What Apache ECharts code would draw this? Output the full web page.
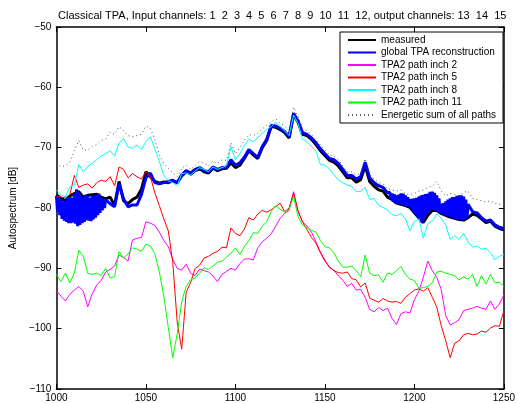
<!DOCTYPE html>
<html>
<head>
<meta charset="utf-8">
<script src="https://cdn.jsdelivr.net/npm/echarts@6/dist/echarts.min.js"></script>
<style>
html,body{margin:0;padding:0;background:#fff;}
#chart{width:518px;height:403px;}
</style>
</head>
<body>
<div id="chart"></div>
<script>
// ---------- DATA ----------
const titleText = 'Classical TPA, Input channels: 1  2  3  4  5  6  7  8  9  10  11  12, output channels: 13  14  15';
const yAxisName = 'Autospectrum [dB]';
const seriesNames = ['measured','global TPA reconstruction','TPA2 path inch 2','TPA2 path inch 5','TPA2 path inch 8','TPA2 path inch 11','Energetic sum of all paths'];
const xTicks = [1000,1050,1100,1150,1200,1250];
const yTicks = [-110,-100,-90,-80,-70,-60,-50];

const freq = [1000,1002.5,1005,1007.5,1010,1012.5,1015,1017.5,1020,1022.5,1025,1027.5,1030,1032.5,1035,1037.5,1040,1042.5,1045,1047.5,
1050,1052.5,1055,1057.5,1060,1062.5,1065,1067.5,1070,1072.5,1075,1077.5,1080,1082.5,1085,1087.5,1090,1092.5,1095,1097.5,
1100,1102.5,1105,1107.5,1110,1112.5,1115,1117.5,1120,1122.5,1125,1127.5,1130,1132.5,1135,1137.5,1140,1142.5,1145,1147.5,
1150,1152.5,1155,1157.5,1160,1162.5,1165,1167.5,1170,1172.5,1175,1177.5,1180,1182.5,1185,1187.5,1190,1192.5,1195,1197.5,
1200,1202.5,1205,1207.5,1210,1212.5,1215,1217.5,1220,1222.5,1225,1227.5,1230,1232.5,1235,1237.5,1240,1242.5,1245,1247.5,1250];

const measured = [
-77.8,-78.4,-78.8,-78.0, -77.6,-77.3,-78.2,-77.9, -77.8,-77.7,-78.2,-78.5, -78.2,-79.6,-75.6,-78.8, -79.3,-78.6,-78.2,-76.9,
-74.0,-74.8,-75.6,-75.9, -75.7,-75.8,-75.5,-75.8, -74.7,-74.0,-74.4,-73.8, -73.5,-74.0,-74.2,-73.4, -73.8,-73.5,-73.4,-72.5,
-73.3,-72.9,-71.8,-70.5, -71.2,-71.8,-70.0,-68.8, -66.5,-66.6,-67.0,-67.5, -68.4,-64.5,-65.8,-67.8, -68.0,-68.6,-69.5,-70.5,
-71.3,-72.1,-72.4,-73.0, -74.0,-75.0,-75.0,-75.7, -75.3,-73.0,-75.6,-76.4, -77.0,-77.2,-78.2,-78.6, -79.2,-79.4,-79.6,-79.9,
-80.8,-81.6,-82.4,-81.2, -80.4,-80.4,-80.9,-81.2, -81.5,-81.7,-81.9,-82.0, -81.6,-81.0,-81.2,-81.8, -82.4,-82.2,-83.0,-83.4, -83.6];

// reconstruction is sampled finer where it oscillates quickly (1000-1027.5 and 1186-1230)
const reconFreq = [
1000,1000.625,1001.25,1001.875,1002.5,1003.125,1003.75,1004.375,1005,1005.625,1006.25,1006.875,1007.5,1008.125,1008.75,1009.375,
1010,1010.625,1011.25,1011.875,1012.5,1013.125,1013.75,1014.375,1015,1015.625,1016.25,1016.875,1017.5,1018.125,1018.75,1019.375,
1020,1020.625,1021.25,1021.875,1022.5,1023.125,1023.75,1024.375,1025,1025.625,1026.25,1026.875,1027.5,
1030,1032.5,1035,1037.5,1040,1042.5,1045,1047.5,1050,1052.5,1055,1057.5,1060,1062.5,1065,1067.5,1070,1072.5,1075,1077.5,
1080,1082.5,1085,1087.5,1090,1092.5,1095,1097.5,1100,1102.5,1105,1107.5,1110,1112.5,1115,1117.5,1120,1122.5,1125,1127.5,
1130,1132.5,1135,1137.5,1140,1142.5,1145,1147.5,1150,1152.5,1155,1157.5,1160,1162.5,1165,1167.5,1170,1172.5,1175,1177.5,
1180,1182.5,1185,
1186.25,1186.875,1187.5,1188.125,1188.75,1189.375,1190,1190.625,1191.25,1191.875,1192.5,1193.125,1193.75,1194.375,1195,1195.625,
1196.25,1196.875,1197.5,1198.125,1198.75,1199.375,1200,1200.625,1201.25,1201.875,1202.5,1203.125,1203.75,1204.375,1205,1205.625,
1206.25,1206.875,1207.5,1208.125,1208.75,1209.375,1210,1210.625,1211.25,1211.875,1212.5,1213.125,1213.75,1214.375,1215,1215.625,
1216.25,1216.875,1217.5,1218.125,1218.75,1219.375,1220,1220.625,1221.25,1221.875,1222.5,1223.125,1223.75,1224.375,1225,1225.625,
1226.25,1226.875,1227.5,1228.125,1228.75,1229.375,1230,
1232.5,1235,1237.5,1240,1242.5,1245,1247.5,1250];

const reconstruction = [
-78.0,-80.6,-78.2,-81.2,-78.6,-81.8,-78.9,-82.1,-78.8,-82.3,-78.3,-82.5,-78.2,-82.5,-78.3,-82.4,
-77.6,-82.6,-76.9,-83.0,-77.4,-82.8,-78.0,-82.5,-78.2,-82.3,-77.8,-82.0,-78.0,-82.1,-78.3,-82.2,
-77.9,-81.9,-77.9,-81.6,-77.8,-81.2,-77.6,-80.8,-78.3,-80.4,-78.5,-80.0,-78.6,
-79.3,-79.8,-76.0,-78.5, -79.8,-79.5,-79.5,-77.8, -75.0,-74.2,-75.8,-76.0, -75.8,-75.6,-75.4,-75.8, -74.5,-73.8,-74.2,-73.6,
-73.3,-73.8,-74.0,-73.2, -73.6,-73.3,-73.2,-72.0, -72.9,-72.5,-71.6,-70.3, -71.0,-71.6,-69.8,-68.6, -66.3,-66.4,-66.8,-67.3,
-68.2,-64.3,-65.6,-67.5, -67.8,-68.4,-69.2,-70.2, -71.0,-71.8,-72.0,-72.6, -73.6,-74.6,-74.6,-75.2, -74.8,-72.4,-75.0,-75.8,
-76.3,-76.6,-77.5,
-77.4,-78.5,-77.6,-78.9,-77.7,-79.2,-77.9,-79.3,-77.8,-79.4,-77.6,-79.5,-77.6,-79.6,-77.9,-79.7,
-78.2,-79.8,-78.5,-80.1,-78.5,-80.6,-78.4,-81.0,-78.3,-81.5,-78.1,-82.0,-77.9,-82.5,-77.8,-81.9,
-77.7,-81.1,-77.6,-80.7,-77.3,-80.3,-77.3,-80.3,-77.5,-80.4,-77.9,-80.6,-78.4,-80.9,-79.3,-81.0,
-79.2,-81.2,-78.9,-81.3,-78.6,-81.4,-78.4,-81.6,-78.2,-81.7,-78.2,-81.8,-78.0,-81.9,-77.9,-82.0,
-77.9,-82.0,-78.1,-81.9,-78.6,-81.7,-79.4,
-80.6,-80.8,-81.6,-82.2,-82.0,-82.8,-83.2,-83.4];

const pathInch2 = [
-93.7,-94.6,-95.4,-94.3, -93.6,-93.0,-93.8,-96.4, -94.2,-92.8,-92.0,-90.6, -90.2,-89.6,-87.8,-88.2, -88.8,-85.3,-85.0,-84.9,
-82.3,-82.5,-82.9,-84.0, -85.4,-86.4,-88.5,-90.0, -90.3,-89.3,-90.8,-91.2, -90.1,-90.4,-90.6,-91.3, -92.2,-91.0,-90.5,-90.0,
-90.3,-89.2,-88.5,-88.4, -88.6,-86.6,-85.6,-85.0, -84.3,-83.0,-81.7,-80.9, -80.4,-77.3,-80.6,-82.3, -83.0,-84.0,-85.6,-87.3,
-88.6,-89.9,-90.3,-91.2, -92.0,-93.0,-92.5,-93.6, -93.5,-94.8,-96.8,-97.2, -96.5,-97.0,-96.6,-98.3, -99.3,-97.5,-97.2,-97.4,
-95.2,-93.8,-91.5,-88.8, -90.4,-91.5,-93.5,-97.8, -99.4,-99.0,-98.5,-97.0, -96.8,-96.6,-96.3,-96.6, -96.8,-95.4,-96.8,-95.9, -94.4];

const pathInch5 = [
-78.0,-78.2,-78.3,-77.8, -74.6,-76.6,-76.2,-76.0, -76.7,-75.8,-75.4,-75.6, -74.8,-76.3,-73.2,-73.6, -75.0,-74.3,-74.8,-75.2,
-74.0,-74.8,-77.5,-79.6, -81.8,-83.8,-89.0,-99.0, -103.4,-94.0,-92.3,-90.0, -89.5,-88.3,-88.0,-87.5, -87.2,-86.5,-86.6,-83.3,
-84.2,-84.6,-83.5,-81.6, -82.0,-81.0,-80.4,-80.7, -80.3,-79.8,-79.2,-80.6, -80.0,-77.5,-80.5,-82.3, -83.6,-84.9,-85.8,-87.4,
-88.8,-89.7,-90.4,-90.7, -90.8,-90.6,-91.7,-91.9, -93.1,-92.4,-94.9,-95.3, -95.6,-95.0,-95.4,-95.6, -95.5,-95.8,-94.8,-94.2,
-93.6,-93.4,-93.8,-93.2, -94.8,-96.4,-99.5,-102.0, -104.8,-102.4,-102.0,-101.0, -100.8,-101.0,-100.9,-100.4, -100.6,-99.9,-99.5,-99.6, -97.0];

const pathInch8 = [
-77.0,-77.8,-78.2,-76.5, -76.3,-72.8,-74.0,-73.1, -72.6,-72.0,-71.4,-71.0, -70.5,-71.4,-69.2,-68.5, -69.9,-70.1,-69.6,-70.3,
-69.0,-68.2,-70.2,-72.3, -74.6,-75.5,-75.8,-76.3, -74.3,-74.2,-74.5,-73.9, -73.3,-73.6,-74.0,-73.2, -73.6,-73.3,-73.0,-69.8,
-72.0,-71.0,-69.6,-68.6, -69.0,-68.4,-67.6,-67.0, -66.5,-65.8,-66.5,-67.2, -68.0,-64.6,-66.0,-68.6, -69.0,-69.8,-70.6,-72.8,
-72.9,-73.5,-74.5,-75.3, -75.8,-76.2,-76.4,-77.3, -77.2,-76.6,-78.6,-78.4, -79.6,-79.9,-80.3,-81.1, -81.3,-80.9,-81.8,-83.8,
-82.2,-81.8,-85.0,-82.6, -82.2,-81.0,-81.7,-82.8, -85.2,-84.6,-85.2,-84.2, -85.6,-86.5,-86.3,-86.8, -86.7,-87.4,-88.6,-88.0, -87.8];

const pathInch11 = [
-91.0,-92.2,-90.8,-92.4, -90.8,-87.0,-88.0,-90.8, -91.0,-90.8,-91.2,-90.0, -91.6,-91.4,-87.2,-88.3, -87.6,-86.6,-86.8,-87.2,
-86.0,-86.3,-87.6,-90.6, -94.6,-99.8,-104.8,-100.8, -95.5,-93.0,-91.9,-91.6, -90.8,-89.9,-90.2,-89.6, -89.0,-88.8,-88.2,-87.5,
-86.6,-87.7,-86.4,-85.4, -84.1,-84.2,-83.0,-82.3, -80.6,-79.6,-80.2,-80.7, -80.2,-78.1,-81.4,-82.8, -83.3,-83.7,-84.0,-85.4,
-86.4,-86.6,-87.4,-88.8, -89.8,-89.8,-89.6,-90.4, -91.4,-87.8,-90.8,-91.2, -91.1,-92.3,-90.8,-91.0, -90.4,-89.7,-91.0,-91.8,
-92.0,-93.3,-93.2,-93.0, -92.4,-90.6,-90.5,-90.8, -91.0,-91.2,-91.9,-91.4, -91.8,-91.0,-93.0,-91.2, -92.6,-91.0,-92.4,-92.3, -93.0];

const energeticSum = [
-72.6,-73.2,-73.0,-72.4, -70.5,-68.8,-70.4,-70.4, -69.8,-69.5,-68.8,-68.6, -67.4,-67.8,-66.5,-67.2, -68.0,-68.2,-68.0,-67.8,
-66.4,-66.8,-68.6,-71.2, -72.6,-73.4,-74.2,-74.8, -73.4,-72.9,-73.6,-73.0, -72.3,-72.6,-73.0,-72.2, -72.6,-72.0,-72.1,-69.2,
-71.0,-70.0,-68.8,-67.8, -68.0,-67.6,-66.9,-66.3, -65.7,-65.2,-65.9,-66.4, -67.2,-63.3,-64.8,-66.8, -67.2,-67.8,-68.6,-69.6,
-70.4,-71.2,-71.4,-72.0, -73.0,-74.0,-74.0,-74.6, -74.2,-71.8,-74.4,-75.2, -75.8,-76.0,-76.8,-77.0, -77.2,-77.0,-77.6,-77.8,
-77.6,-77.2,-77.0,-76.6, -76.4,-75.6,-77.2,-78.0, -77.6,-77.8,-78.0,-77.4, -77.2,-78.4,-78.6,-78.8, -79.0,-78.8,-79.2,-79.4, -79.2];

// ---------- CHART ----------
const FONT = '"Liberation Sans", Arial, Helvetica, sans-serif';
const pairs = (xs, ys) => xs.map((x, i) => [x, ys[i]]);
const minusFmt = v => String(v).replace('-', '\u2212');

const chart = echarts.init(document.getElementById('chart'), null, {renderer: 'canvas'});

function axisX(pos, showLabel) {
  return {
    type: 'value', position: pos, min: xTicks[0], max: xTicks[xTicks.length - 1], interval: 50,
    axisLine: {show: true, onZero: false, lineStyle: {color: '#000', width: 1.5}},
    axisTick: {show: true, inside: true, length: 5, lineStyle: {color: '#000', width: 1}},
    axisLabel: {show: showLabel, color: '#000', fontSize: 10, fontFamily: FONT, margin: 4, formatter: v => String(v)},
    splitLine: {show: false}
  };
}
function axisY(pos, showLabel) {
  return {
    type: 'value', position: pos, min: yTicks[0], max: yTicks[yTicks.length - 1], interval: 10,
    axisLine: {show: true, onZero: false, lineStyle: {color: '#000', width: 1.5}},
    axisTick: {show: true, inside: true, length: 5, lineStyle: {color: '#000', width: 1}},
    axisLabel: {show: showLabel, color: '#000', fontSize: 10, fontFamily: FONT, margin: 5, formatter: minusFmt},
    splitLine: {show: false}
  };
}

const yLeft = axisY('left', true);
yLeft.name = yAxisName;
yLeft.nameLocation = 'middle';
yLeft.nameGap = 31;
yLeft.nameTextStyle = {color: '#000', fontSize: 10, fontFamily: FONT};

function lineSeries(name, xs, ys, color, width, type) {
  return {
    name: name, type: 'line', xAxisIndex: 0, yAxisIndex: 0,
    data: pairs(xs, ys), showSymbol: false, symbol: 'none', animation: false,
    lineStyle: {color: color, width: width, type: type || 'solid'},
    itemStyle: {color: color}
  };
}

chart.setOption({
  animation: false,
  backgroundColor: '#fff',
  title: {
    text: titleText, left: 58, top: 10, padding: 0,
    textStyle: {color: '#000', fontSize: 11, fontWeight: 'normal', fontFamily: FONT}
  },
  grid: {left: 48, right: 10, top: 27, bottom: 13, containLabel: false},
  xAxis: [axisX('bottom', true), axisX('top', false)],
  yAxis: [yLeft, axisY('right', false)],
  legend: {
    data: seriesNames, orient: 'vertical', left: 340, top: 32,
    padding: [3, 7, 3, 7], itemWidth: 28, itemHeight: 10, itemGap: 2.5, itemTextGap: 7,
    backgroundColor: '#fff', borderColor: '#000', borderWidth: 1,
    itemStyle: {opacity: 0},
    textStyle: {color: '#000', fontSize: 10, fontFamily: FONT},
    selectedMode: false
  },
  series: [
    lineSeries(seriesNames[0], freq, measured, '#000000', 3),
    lineSeries(seriesNames[1], reconFreq, reconstruction, '#0000ff', 3),
    lineSeries(seriesNames[2], freq, pathInch2, '#ff00ff', 1),
    lineSeries(seriesNames[3], freq, pathInch5, '#ff0000', 1),
    lineSeries(seriesNames[4], freq, pathInch8, '#00ffff', 1),
    lineSeries(seriesNames[5], freq, pathInch11, '#00ff00', 1),
    lineSeries(seriesNames[6], freq, energeticSum, '#555555', 1, [1, 3])
  ]
});
</script>
</body>
</html>
